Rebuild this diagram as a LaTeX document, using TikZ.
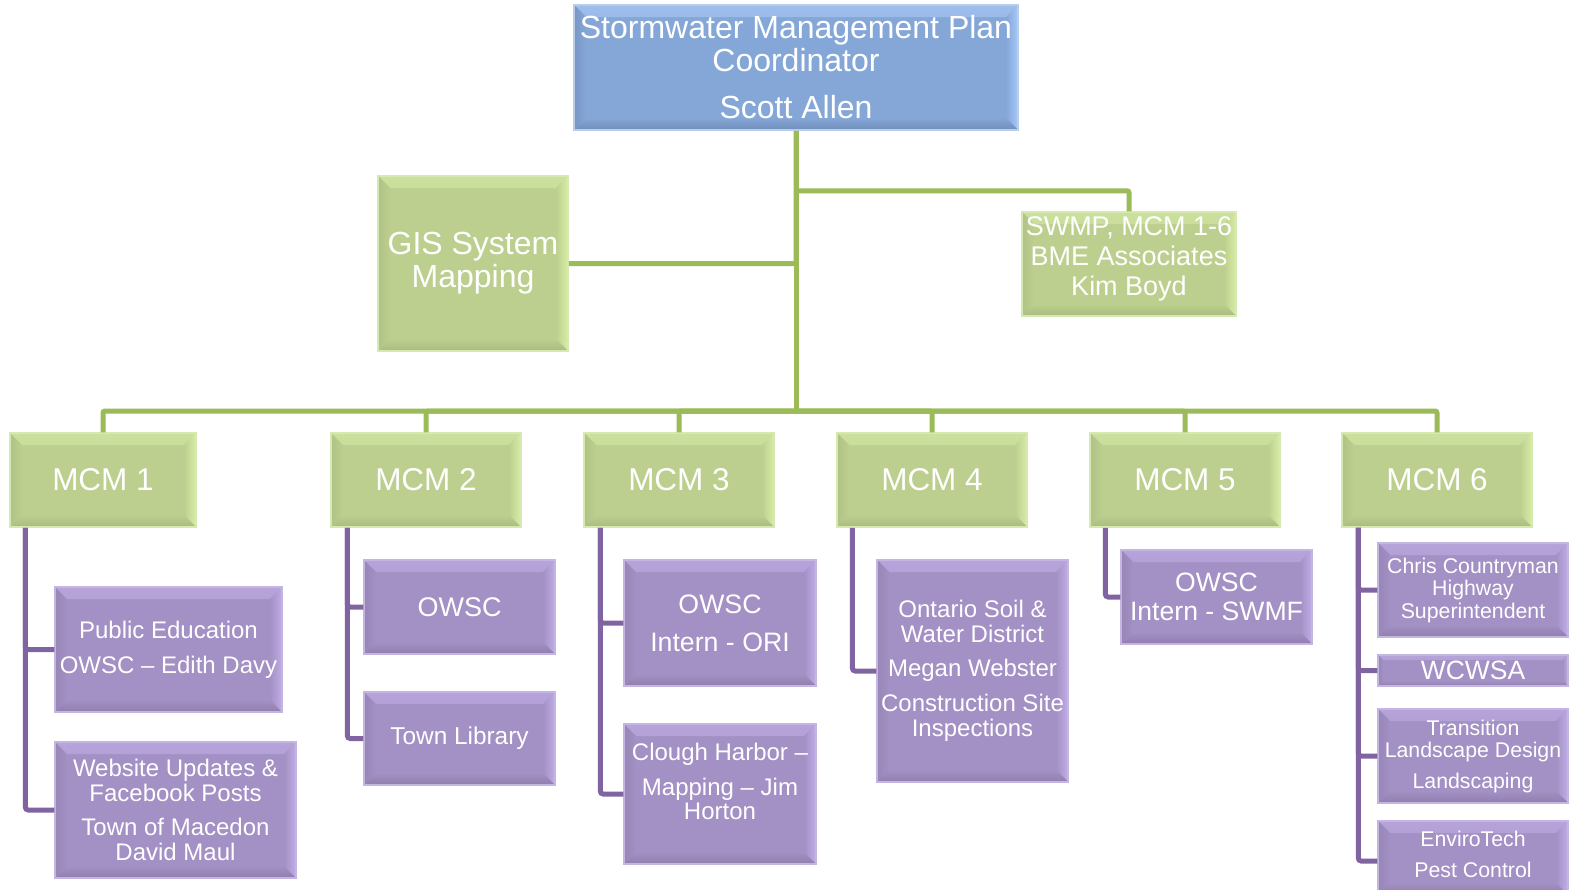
\documentclass[tikz,border=0pt]{standalone}
\usepackage{fontspec}
\setmainfont{Liberation Sans}
\usetikzlibrary{calc}
\definecolor{gface}{HTML}{BDCF8F}
\definecolor{gtop}{HTML}{CCE09E}
\definecolor{gright}{HTML}{D8EDA6}
\definecolor{gbot}{HTML}{A9BC7E}
\definecolor{gleft}{HTML}{B0C386}
\definecolor{gborder}{HTML}{D6E9B0}
\definecolor{pface}{HTML}{A390C4}
\definecolor{ptop}{HTML}{B5A3D9}
\definecolor{pright}{HTML}{C0ADE6}
\definecolor{pbot}{HTML}{8F7EAD}
\definecolor{pleft}{HTML}{9786B6}
\definecolor{pborder}{HTML}{C4B6E2}
\definecolor{bface}{HTML}{85A7D7}
\definecolor{btop}{HTML}{9DBDEB}
\definecolor{bright}{HTML}{A6C8F8}
\definecolor{bbot}{HTML}{718DBA}
\definecolor{bleft}{HTML}{7895C4}
\definecolor{bborder}{HTML}{B9CCE8}
\definecolor{glc}{HTML}{9BBB59}
\definecolor{plc}{HTML}{8064A2}
\newcommand\fsz[2]{\fontsize{#1}{#2}\selectfont}
\def\pb{path picture bounding box}
\tikzset{
  bvw/.store in=\bvw, bvw=12pt,
  bvf/.store in=\bvf,
  bvt/.store in=\bvt, bvr/.store in=\bvr, bvb/.store in=\bvb, bvl/.store in=\bvl,
  bevelbox/.style={inner sep=0pt, align=center, text=white, line width=1.5pt,
    path picture={
      \shade[top color=\bvt, bottom color=\bvf] (\pb.north west) -- (\pb.north east) -- ([xshift=-\bvw,yshift=-\bvw]\pb.north east) -- ([xshift=\bvw,yshift=-\bvw]\pb.north west) -- cycle;
      \shade[right color=\bvr, left color=\bvf] (\pb.north east) -- (\pb.south east) -- ([xshift=-\bvw,yshift=\bvw]\pb.south east) -- ([xshift=-\bvw,yshift=-\bvw]\pb.north east) -- cycle;
      \shade[bottom color=\bvb, top color=\bvf] (\pb.south east) -- (\pb.south west) -- ([xshift=\bvw,yshift=\bvw]\pb.south west) -- ([xshift=-\bvw,yshift=\bvw]\pb.south east) -- cycle;
      \shade[left color=\bvl, right color=\bvf] (\pb.south west) -- (\pb.north west) -- ([xshift=\bvw,yshift=-\bvw]\pb.north west) -- ([xshift=\bvw,yshift=\bvw]\pb.south west) -- cycle;
    }},
  gbox/.style={bevelbox, fill=gface, draw=gborder, bvf=gface, bvt=gtop, bvr=gright, bvb=gbot, bvl=gleft},
  pbox/.style={bevelbox, fill=pface, draw=pborder, bvf=pface, bvt=ptop, bvr=pright, bvb=pbot, bvl=pleft},
  bbox/.style={bevelbox, fill=bface, draw=bborder, bvf=bface, bvt=btop, bvr=bright, bvb=bbot, bvl=bleft},
  txt/.style={inner sep=0pt, align=center, text=white},
  mcm/.style={gbox, minimum width=190pt, minimum height=94pt, font=\fsz{31.5}{32}},
  gline/.style={line width=5pt, draw=glc, rounded corners=2pt},
  pline/.style={line width=5pt, draw=plc, rounded corners=3pt}
}
\begin{document}
\begin{tikzpicture}[x=1pt,y=-1pt]
\clip (0,0) rectangle (1571,889);
\fill[white] (0,0) rectangle (1571,889);
% top level
\node[bbox, minimum width=444pt, minimum height=125pt, font=\fsz{32}{33}] (top) at (796,67.5)
  {Stormwater Management Plan\\Coordinator\\[14pt]Scott Allen};
\node[gbox, minimum width=190pt, minimum height=175pt, font=\fsz{32}{33}] (gis) at (473,263.5)
  {GIS System\\Mapping};
\node[gbox, minimum width=214pt, minimum height=104pt] (swmp) at (1129,264) {};
\node[txt, font=\fsz{27}{30}] (swmpt) at ([yshift=5pt]swmp.center)
  {SWMP, MCM 1-6\\BME Associates\\Kim Boyd};
% MCM boxes
\node[mcm, minimum width=186pt] (m1) at (103,480) {MCM 1};
\node[mcm] (m2) at (426,480) {MCM 2};
\node[mcm] (m3) at (679,480) {MCM 3};
\node[mcm] (m4) at (932,480) {MCM 4};
\node[mcm] (m5) at (1185,480) {MCM 5};
\node[mcm] (m6) at (1437,480) {MCM 6};
% children
\node[pbox, minimum width=227pt, minimum height=125pt, font=\fsz{24}{25}] (c11) at (168.5,649.5)
  {Public Education\\[10pt]OWSC -- Edith Davy};
\node[pbox, minimum width=241pt, minimum height=136pt, font=\fsz{24}{25}] (c12) at (175.5,810)
  {Website Updates \&\\Facebook Posts\\[9pt]Town of Macedon\\David Maul};
\node[pbox, minimum width=191pt, minimum height=94pt, font=\fsz{27}{28}] (c21) at (459.5,607) {OWSC};
\node[pbox, minimum width=191pt, minimum height=93pt, font=\fsz{24.4}{28}] (c22) at (459.5,738.5) {Town Library};
\node[pbox, minimum width=192pt, minimum height=126pt, font=\fsz{26.7}{28}] (c31) at (720,623)
  {OWSC\\[10pt]Intern - ORI};
\node[pbox, minimum width=192pt, minimum height=140pt] (c32) at (720,794) {};
\node[txt, font=\fsz{24}{24}] (c32t) at ([yshift=13pt]c32.center)
  {Clough Harbor --\\[11pt]Mapping -- Jim\\Horton};
\node[pbox, minimum width=191pt, minimum height=222pt, font=\fsz{24}{25}] (c41) at (972.5,671)
  {Ontario Soil \&\\Water District\\[9pt]Megan Webster\\[10pt]Construction Site\\Inspections};
\node[pbox, minimum width=191pt, minimum height=94pt, font=\fsz{26.6}{29}] (c51) at (1216.5,597)
  {OWSC\\Intern - SWMF};
\node[pbox, minimum width=190pt, minimum height=94pt, font=\fsz{21.3}{22.5}] (c61) at (1473,590)
  {Chris Countryman\\Highway\\Superintendent};
\node[pbox, bvw=5pt, minimum width=190pt, minimum height=31pt, font=\fsz{26.5}{28}] (c62) at (1473,670.5) {WCWSA};
\node[pbox, minimum width=190pt, minimum height=94pt, font=\fsz{21.3}{22}] (c63) at (1473,756)
  {Transition\\Landscape Design\\[9pt]Landscaping};
\node[pbox, minimum width=190pt, minimum height=74pt] (c64) at (1473,858) {};
\node[txt, font=\fsz{21.3}{31}] (c64t) at ([yshift=4pt]c64.center) {EnviroTech\\Pest Control};
% green connectors
\coordinate (hub) at (796,411);
\draw[gline] (top.south) -- (hub);
\foreach \m in {m1,m2,m3,m4,m5,m6} \draw[gline] (\m.north) |- (hub);
\draw[gline] (gis.east) -| (top.south);
\draw[gline] ([yshift=-60pt]top.south) -| (swmp.north);
% purple connectors
\draw[pline] ([xshift=16pt]m1.south west) |- (c11.west);
\draw[pline] ([xshift=16pt]m1.south west) |- (c12.west);
\draw[pline] ([xshift=17pt]m2.south west) |- (c21.west);
\draw[pline] ([xshift=17pt]m2.south west) |- (c22.west);
\draw[pline] ([xshift=17pt]m3.south west) |- (c31.west);
\draw[pline] ([xshift=17pt]m3.south west) |- (c32.west);
\draw[pline] ([xshift=16pt]m4.south west) |- (c41.west);
\draw[pline] ([xshift=16pt]m5.south west) |- (c51.west);
\draw[pline] ([xshift=17pt]m6.south west) |- (c61.west);
\draw[pline] ([xshift=17pt]m6.south west) |- (c62.west);
\draw[pline] ([xshift=17pt]m6.south west) |- (c63.west);
\draw[pline] ([xshift=17pt]m6.south west) |- ([yshift=-3pt]c64.west);
\end{tikzpicture}
\end{document}
